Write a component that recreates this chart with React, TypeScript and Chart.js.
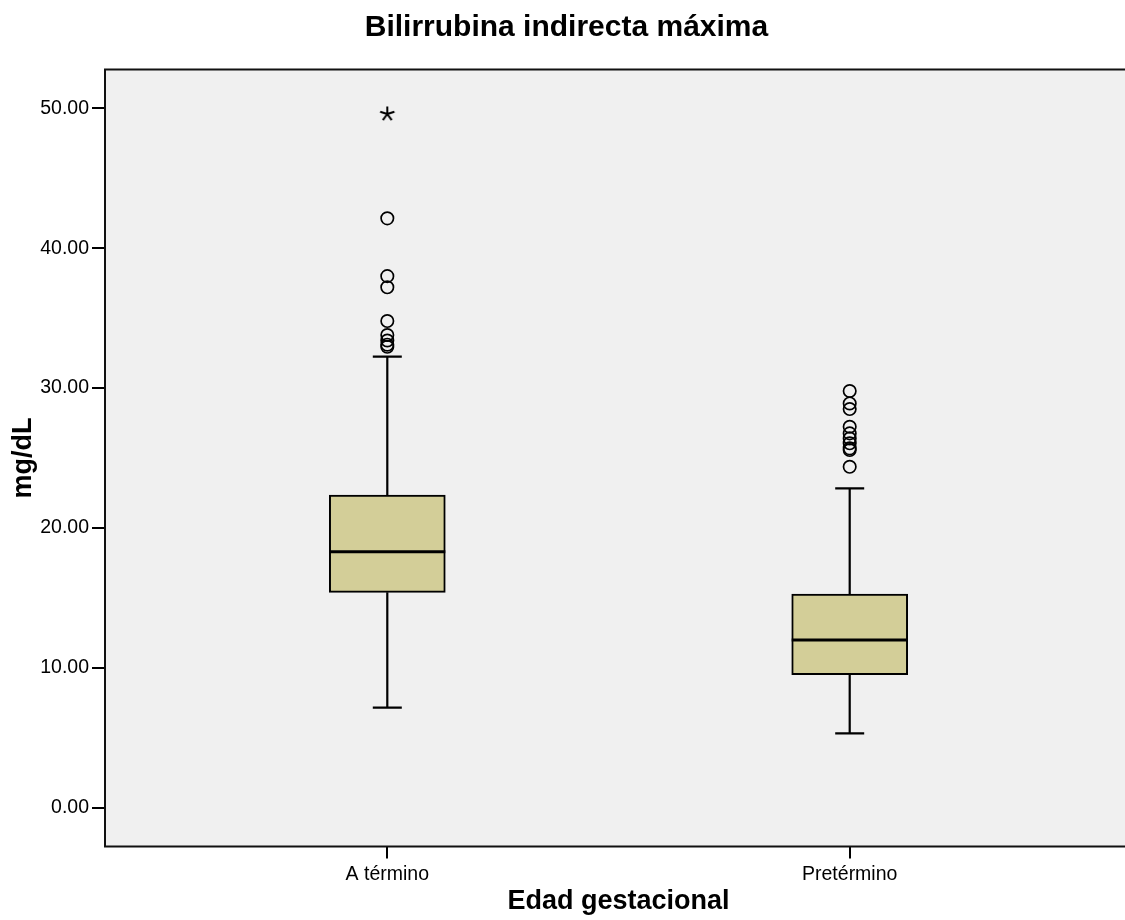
import React, { useEffect, useRef } from 'react';
import { Chart, registerables } from 'chart.js';

Chart.register(...registerables);

// ---- data ----
const categories = ['A término', 'Pretérmino'];
const q1 = [15.4, 9.51];
const q3 = [22.35, 15.28];
const medians = [18.3, 11.99];
const whiskerLow = [7.15, 5.32];
const whiskerHigh = [32.24, 22.83];
const outliersTermino = [42.13, 38.0, 37.2, 34.79, 33.79, 33.4, 33.1, 32.95];
const outliersPretermino = [29.79, 28.9, 28.5, 27.23, 26.76, 26.4, 26.05, 25.69, 25.57, 24.37];
const extremesTermino = [49.59];
const extremesPretermino: number[] = [];
const yTicks = [0, 10, 20, 30, 40, 50];

const FONT = "'Liberation Sans', Arial, Helvetica, sans-serif";
const BOX_FILL = '#d3ce98';
const PLOT_BG = '#f0f0f0';

function makeStar(): HTMLCanvasElement {
  const c = document.createElement('canvas');
  c.width = 18;
  c.height = 18;
  const g = c.getContext('2d')!;
  g.strokeStyle = '#000';
  g.lineWidth = 2;
  for (let k = 0; k < 5; k++) {
    const a = -Math.PI / 2 + (k * 2 * Math.PI) / 5;
    g.beginPath();
    g.moveTo(9, 9);
    g.lineTo(9 + 7.5 * Math.cos(a), 9 + 7.5 * Math.sin(a));
    g.stroke();
  }
  return c;
}

const boxPlugin = {
  id: 'boxExtras',
  beforeDraw(chart: any) {
    const { ctx, chartArea } = chart;
    ctx.save();
    ctx.fillStyle = PLOT_BG;
    ctx.fillRect(chartArea.left, chartArea.top, chartArea.right - chartArea.left, chartArea.bottom - chartArea.top);
    ctx.restore();
  },
  beforeDatasetsDraw(chart: any) {
    const { ctx } = chart;
    const xs = chart.scales.x;
    const ys = chart.scales.y;
    ctx.save();
    ctx.strokeStyle = '#000';
    ctx.lineWidth = 2.2;
    categories.forEach((_, i) => {
      const x = xs.getPixelForValue(i + 1);
      const capHalf = 14.5;
      const yQ3 = ys.getPixelForValue(q3[i]);
      const yQ1 = ys.getPixelForValue(q1[i]);
      const yHi = ys.getPixelForValue(whiskerHigh[i]);
      const yLo = ys.getPixelForValue(whiskerLow[i]);
      ctx.beginPath();
      ctx.moveTo(x, yQ3);
      ctx.lineTo(x, yHi);
      ctx.moveTo(x - capHalf, yHi);
      ctx.lineTo(x + capHalf, yHi);
      ctx.moveTo(x, yQ1);
      ctx.lineTo(x, yLo);
      ctx.moveTo(x - capHalf, yLo);
      ctx.lineTo(x + capHalf, yLo);
      ctx.stroke();
    });
    ctx.restore();
  },
  afterDatasetsDraw(chart: any) {
    const { ctx } = chart;
    const xs = chart.scales.x;
    const ys = chart.scales.y;
    const meta = chart.getDatasetMeta(0);
    ctx.save();
    ctx.strokeStyle = '#000';
    ctx.lineWidth = 3;
    categories.forEach((_, i) => {
      const bar = meta.data[i];
      const half = bar ? bar.width / 2 : 58;
      const x = xs.getPixelForValue(i + 1);
      const y = ys.getPixelForValue(medians[i]);
      ctx.beginPath();
      ctx.moveTo(x - half, y);
      ctx.lineTo(x + half, y);
      ctx.stroke();
    });
    ctx.restore();
  },
  afterDraw(chart: any) {
    const { ctx, chartArea } = chart;
    ctx.save();
    ctx.strokeStyle = '#111';
    ctx.lineWidth = 2;
    ctx.strokeRect(chartArea.left, chartArea.top, chartArea.right - chartArea.left, chartArea.bottom - chartArea.top);
    ctx.restore();
  },
};

export default function App() {
  const ref = useRef<HTMLCanvasElement | null>(null);

  useEffect(() => {
    if (!ref.current) return;
    const star = makeStar();
    const circleStyle = {
      type: 'scatter' as const,
      pointStyle: 'circle',
      pointRadius: 6.2,
      pointHoverRadius: 6.2,
      pointBorderWidth: 1.7,
      pointBorderColor: '#000',
      pointBackgroundColor: 'rgba(0,0,0,0)',
      showLine: false,
    };
    const chart = new Chart(ref.current, {
      type: 'bar',
      data: {
        datasets: [
          {
            type: 'bar',
            data: categories.map((_, i) => ({ x: i + 1, y: [q1[i], q3[i]] })) as any,
            backgroundColor: BOX_FILL,
            borderColor: '#000',
            borderWidth: 2,
            borderSkipped: false,
            barThickness: 116,
          } as any,
          { ...circleStyle, data: outliersTermino.map((v) => ({ x: 1, y: v })) } as any,
          { ...circleStyle, data: outliersPretermino.map((v) => ({ x: 2, y: v })) } as any,
          {
            type: 'scatter',
            data: [
              ...extremesTermino.map((v) => ({ x: 1, y: v })),
              ...extremesPretermino.map((v) => ({ x: 2, y: v })),
            ],
            pointStyle: star,
            pointRadius: 7,
            showLine: false,
          } as any,
        ],
      },
      options: {
        animation: false,
        responsive: true,
        maintainAspectRatio: false,
        layout: { padding: { left: 0, right: 7, top: 0, bottom: 0 } },
        plugins: {
          legend: { display: false },
          tooltip: { enabled: false },
          title: {
            display: true,
            text: 'Bilirrubina indirecta máxima',
            color: '#000',
            font: { family: FONT, size: 30, weight: 'bold' },
            padding: { top: 10, bottom: 23.5 },
          },
        },
        scales: {
          x: {
            type: 'linear',
            min: 0.3895,
            max: 2.6105,
            offset: false,
            afterBuildTicks: (s: any) => {
              s.ticks = categories.map((_, i) => ({ value: i + 1 }));
            },
            afterFit: (s: any) => {
              s.height = 73.5;
            },
            ticks: {
              callback: (v: any) => categories[Number(v) - 1] ?? '',
              color: '#000',
              font: { family: FONT, size: 19.5 },
              padding: 4,
              maxRotation: 0,
              autoSkip: false,
            },
            grid: {
              display: true,
              offset: false,
              drawOnChartArea: false,
              drawTicks: true,
              tickLength: 12,
              color: '#000',
              lineWidth: 2,
            },
            border: { display: false },
            title: {
              display: true,
              text: 'Edad gestacional',
              color: '#000',
              font: { family: FONT, size: 27, weight: 'bold' },
              padding: { top: 0, bottom: 2 },
            },
          },
          y: {
            type: 'linear',
            min: -2.77,
            max: 52.77,
            afterBuildTicks: (s: any) => {
              s.ticks = yTicks.map((v) => ({ value: v }));
            },
            afterFit: (s: any) => {
              s.width = 105;
            },
            ticks: {
              callback: (v: any) => Number(v).toFixed(2),
              color: '#000',
              font: { family: FONT, size: 19.5 },
              padding: 3,
            },
            grid: {
              display: true,
              drawOnChartArea: false,
              drawTicks: true,
              tickLength: 13,
              color: '#000',
              lineWidth: 2,
            },
            border: { display: false },
            title: {
              display: true,
              text: 'mg/dL',
              color: '#000',
              font: { family: FONT, size: 27, weight: 'bold' },
              padding: { top: 7, bottom: 0 },
            },
          },
        },
      } as any,
      plugins: [boxPlugin],
    });
    return () => chart.destroy();
  }, []);

  return (
    <div
      style={{
        position: 'fixed',
        left: 0,
        top: 0,
        width: 1125,
        height: 920,
        overflow: 'hidden',
        background: '#fff',
      }}
    >
      <div style={{ position: 'relative', width: 1140, height: 920 }}>
        <canvas ref={ref} />
      </div>
    </div>
  );
}
